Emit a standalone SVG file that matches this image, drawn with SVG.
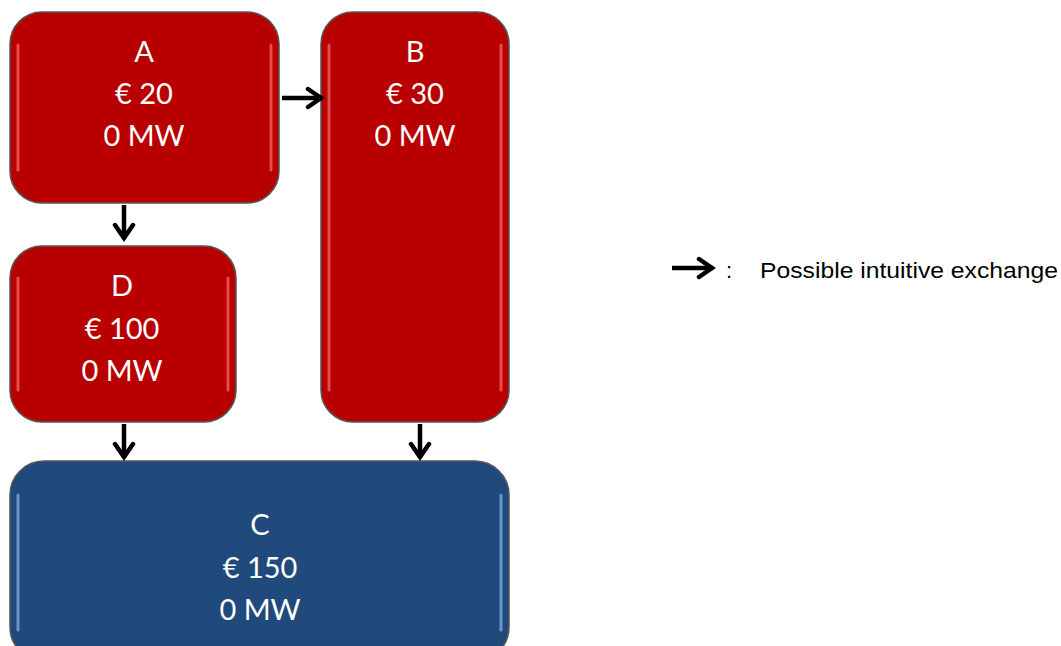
<svg xmlns="http://www.w3.org/2000/svg" width="1061" height="646" viewBox="0 0 1061 646">
<defs>
<style>
.red{fill:#B80000;stroke:#555;stroke-width:1.5}
.blue{fill:#214A7C;stroke:#555;stroke-width:1.5}
.hlr{fill:none;stroke:#F06060;stroke-width:3;stroke-linecap:round;opacity:0.8}
.hlb{fill:none;stroke:#7FA8DA;stroke-width:3;stroke-linecap:round;opacity:0.8}
.t{font-family:Lato,"Open Sans",sans-serif;font-size:29px;fill:#fff;text-anchor:middle}
.c{stroke:#000;stroke-width:4.5;fill:none}
.leg{font-family:"Liberation Sans",Arial,sans-serif;font-size:22px;fill:#000}
</style>
<marker id="ah" viewBox="0 0 24 24" refX="20" refY="12" markerWidth="24" markerHeight="24" orient="auto" markerUnits="userSpaceOnUse">
<path d="M6,3 L19,12 L6,21" fill="none" stroke="#000" stroke-width="4.5" stroke-linejoin="miter" stroke-linecap="round"/>
</marker>
</defs>
<rect width="1061" height="646" fill="#fff"/>
<g id="A">
<rect class="red" x="10" y="12" width="269" height="191" rx="32"/>
<path class="hlr" d="M18 45 V170 M271 45 V170"/>
<text class="t" x="144" y="62">A</text>
<text class="t" x="144" y="104">€ 20</text>
<text class="t" x="144" y="146">0 MW</text>
</g>
<g id="B">
<rect class="red" x="321" y="12" width="188" height="410" rx="32"/>
<path class="hlr" d="M329 45 V390 M501 45 V390"/>
<text class="t" x="415" y="62">B</text>
<text class="t" x="415" y="104">€ 30</text>
<text class="t" x="415" y="146">0 MW</text>
</g>
<g id="D">
<rect class="red" x="10" y="246" width="226" height="176" rx="32"/>
<path class="hlr" d="M18 278 V390 M228 278 V390"/>
<text class="t" x="122" y="296">D</text>
<text class="t" x="122" y="339">€ 100</text>
<text class="t" x="122" y="381">0 MW</text>
</g>
<g id="C">
<rect class="blue" x="10" y="461" width="499" height="200" rx="34"/>
<path class="hlb" d="M18 495 V630 M501 495 V630"/>
<text class="t" x="260" y="535">C</text>
<text class="t" x="260" y="578">€ 150</text>
<text class="t" x="260" y="620">0 MW</text>
</g>
<g id="connectors">
<line class="c" x1="282" y1="98" x2="322" y2="98" marker-end="url(#ah)"/>
<line class="c" x1="124" y1="205" x2="124" y2="239" marker-end="url(#ah)"/>
<line class="c" x1="124" y1="424" x2="124" y2="458" marker-end="url(#ah)"/>
<line class="c" x1="420" y1="424" x2="420" y2="458" marker-end="url(#ah)"/>
</g>
<g id="legend">
<line class="c" x1="672" y1="268" x2="713" y2="268" marker-end="url(#ah)"/>
<text class="leg" x="726" y="278">:</text>
<text class="leg" x="760" y="278" textLength="298" lengthAdjust="spacingAndGlyphs">Possible intuitive exchange</text>
</g>
</svg>
